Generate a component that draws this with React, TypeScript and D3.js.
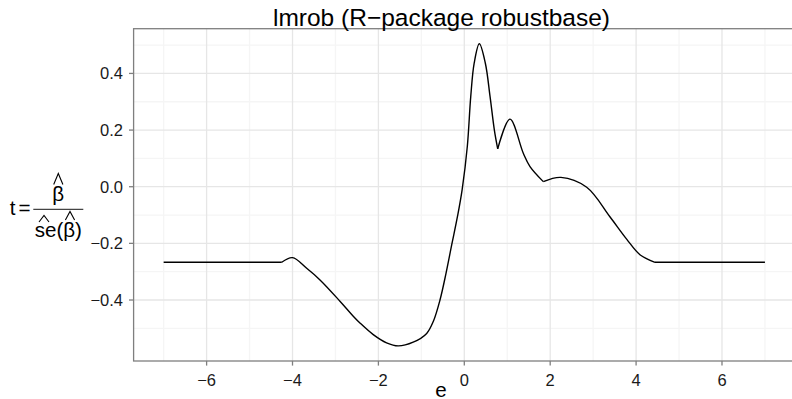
import React from "react";
import * as d3 from "d3";

// Residual e and the resulting t statistic for lmrob
const eValues = [
  -7, -4.25, -4.0, -3.67, -3.36, -2.89, -2.58, -2.43, -2.12, -1.81, -1.54, -1.19,
  -0.876, -0.72, -0.566, -0.426, -0.29, -0.16, -0.05, 0.07, 0.15, 0.23, 0.35, 0.49,
  0.6, 0.7, 0.778, 1.064, 1.374, 1.53, 1.84, 2.25, 2.85, 3.39, 3.78, 4.09, 4.44, 7,
];
const tValues = [
  -0.2668, -0.2668, -0.2505, -0.288, -0.329, -0.405, -0.458, -0.481, -0.522, -0.551, -0.562, -0.549,
  -0.518, -0.475, -0.4, -0.306, -0.203, -0.106, -0.01, 0.142, 0.318, 0.436, 0.5046, 0.436,
  0.318, 0.2, 0.1336, 0.2385, 0.118, 0.071, 0.018, 0.033, -0.002, -0.106, -0.185, -0.24, -0.2668, -0.2668,
];
// Kinks in the curve where the smoothing restarts
const kinks = [-4.25, 0.778, 1.84, 4.44];

const xMajor = [-6, -4, -2, 0, 2, 4, 6];
const xMinor = [-7, -5, -3, -1, 1, 3, 5, 7];
const yMajor = [-0.4, -0.2, 0.0, 0.2, 0.4];
const yMinor = [-0.5, -0.3, -0.1, 0.1, 0.3, 0.5];

const titleText = "lmrob (R\u2212package robustbase)";
const xTitle = "e";

const W = 792;
const H = 399;
const FONT = "'Liberation Sans', Arial, Helvetica, sans-serif";

export default function App() {
  const panel = { left: 133.6, right: 795, top: 28.7, bottom: 361 };
  const xExt = d3.extent(eValues) as [number, number];
  const yExt = d3.extent(tValues) as [number, number];
  const xPad = (xExt[1] - xExt[0]) * 0.05;
  const yPad = (yExt[1] - yExt[0]) * 0.05;
  const x = d3.scaleLinear().domain([xExt[0] - xPad, xExt[1] + xPad]).range([panel.left, panel.right]);
  const y = d3.scaleLinear().domain([yExt[0] - yPad, yExt[1] + yPad]).range([panel.bottom, panel.top]);

  const pts = eValues.map((e, i) => [e, tValues[i]] as [number, number]);
  const segments: [number, number][][] = [];
  let cur: [number, number][] = [];
  pts.forEach((p) => {
    cur.push(p);
    if (kinks.includes(p[0])) {
      segments.push(cur);
      cur = [p];
    }
  });
  if (cur.length > 1) segments.push(cur);

  const line = d3
    .line<[number, number]>()
    .x((d) => x(d[0]))
    .y((d) => y(d[1]))
    .curve(d3.curveCatmullRom.alpha(0.5));

  const fmtX = (v: number) => String(v).replace("-", "\u2212");
  const fmtY = (v: number) => v.toFixed(1).replace("-", "\u2212");

  const hat = (cx: number, top: number, bottom: number, half: number) =>
    `M${cx - half},${bottom} L${cx},${top} L${cx + half},${bottom}`;

  return (
    <svg
      width={W}
      height={H}
      style={{ position: "absolute", left: 0, top: 0, background: "#fff" }}
      fontFamily={FONT}
    >
      <rect x={0} y={0} width={W} height={H} fill="#fff" />
      {/* grid */}
      <g>
        {xMinor.map((v) => (
          <line key={"xm" + v} x1={x(v)} x2={x(v)} y1={panel.top} y2={panel.bottom} stroke="#f5f5f5" strokeWidth={1.3} />
        ))}
        {yMinor.map((v) => (
          <line key={"ym" + v} x1={panel.left} x2={panel.right} y1={y(v)} y2={y(v)} stroke="#f5f5f5" strokeWidth={1.3} />
        ))}
        {xMajor.map((v) => (
          <line key={"xM" + v} x1={x(v)} x2={x(v)} y1={panel.top} y2={panel.bottom} stroke="#e6e6e6" strokeWidth={1.3} />
        ))}
        {yMajor.map((v) => (
          <line key={"yM" + v} x1={panel.left} x2={panel.right} y1={y(v)} y2={y(v)} stroke="#e6e6e6" strokeWidth={1.3} />
        ))}
      </g>
      {/* curve */}
      <g fill="none" stroke="#000" strokeWidth={1.4} strokeLinejoin="round">
        {segments.map((s, i) => (
          <path key={i} d={line(s) || ""} />
        ))}
      </g>
      {/* panel border */}
      <rect
        x={panel.left}
        y={panel.top}
        width={panel.right - panel.left}
        height={panel.bottom - panel.top}
        fill="none"
        stroke="#7f7f7f"
        strokeWidth={1.3}
      />
      {/* axes ticks and labels */}
      <g stroke="#7f7f7f" strokeWidth={1.3}>
        {xMajor.map((v) => (
          <line key={"xt" + v} x1={x(v)} x2={x(v)} y1={panel.bottom} y2={panel.bottom + 4.6} />
        ))}
        {yMajor.map((v) => (
          <line key={"yt" + v} x1={panel.left - 4.6} x2={panel.left} y1={y(v)} y2={y(v)} />
        ))}
      </g>
      <g fontSize={16.5} fill="#1a1a1a">
        {xMajor.map((v) => (
          <text key={"xl" + v} x={x(v)} y={386} textAnchor="middle">
            {fmtX(v)}
          </text>
        ))}
        {yMajor.map((v) => (
          <text key={"yl" + v} x={123} y={y(v)} dy="0.36em" textAnchor="end">
            {fmtY(v)}
          </text>
        ))}
      </g>
      {/* titles */}
      <text x={441.5} y={26} textAnchor="middle" fontSize={24.5} fill="#000">
        {titleText}
      </text>
      <text x={441} y={396.5} textAnchor="middle" fontSize={20.6} fill="#000">
        {xTitle}
      </text>
      {/* y title: t = beta-hat / se-hat(beta-hat) */}
      <g fill="#000" fontSize={20.6}>
        <text x={12.5} y={215} textAnchor="middle">t</text>
        <text x={24.5} y={215} textAnchor="middle">=</text>
        <text x={58.3} y={201} textAnchor="middle">{"\u03b2"}</text>
        <text x={58.3} y={236.5} textAnchor="middle">{"se(\u03b2)"}</text>
      </g>
      <line x1={33.3} x2={83.3} y1={209.3} y2={209.3} stroke="#444" strokeWidth={1.3} />
      <g fill="none" stroke="#000" strokeWidth={1.1}>
        <path d={hat(58.3, 173.5, 184.5, 4.6)} />
        <path d={hat(44, 215.5, 222, 5)} />
        <path d={hat(70, 211.5, 220, 4.6)} />
      </g>
    </svg>
  );
}
